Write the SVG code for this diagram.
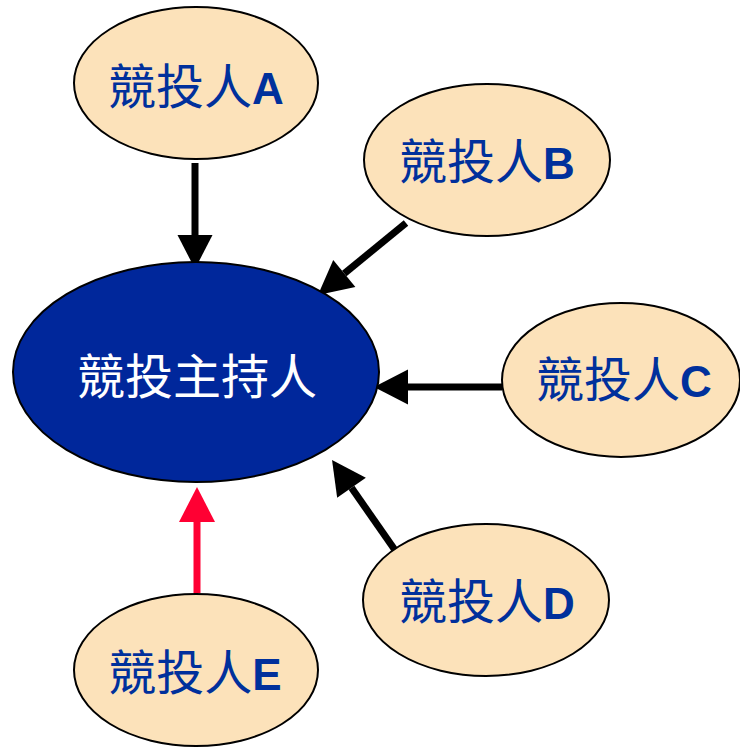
<svg xmlns="http://www.w3.org/2000/svg" width="740" height="747" viewBox="0 0 740 747">
<style>
.bidder{fill:#FCE2BA;stroke:#000;stroke-width:2}
.host{fill:#00279B;stroke:#000;stroke-width:2}
.lbl{font-family:"Liberation Sans","Noto Sans CJK TC",sans-serif;font-size:48px;fill:#00309C;text-anchor:middle}
.lbl tspan{font-weight:bold;font-size:44px}
.hlbl{font-family:"Liberation Sans","Noto Sans CJK TC",sans-serif;font-size:48px;fill:#fff;text-anchor:middle}
.conn{stroke:#000;stroke-width:7;fill:none;marker-end:url(#ah)}
.conn.red{stroke:#FF0033;marker-end:url(#ahr)}
</style>
<defs>
<marker id="ah" markerUnits="userSpaceOnUse" markerWidth="36" markerHeight="36" refX="0" refY="17.5" orient="auto" overflow="visible">
<path d="M0,0 L34,17.5 L0,35 z" fill="#000"/>
</marker>
<marker id="ahr" markerUnits="userSpaceOnUse" markerWidth="36" markerHeight="36" refX="0" refY="18" orient="auto" overflow="visible">
<path d="M0,0 L35,18 L0,36 z" fill="#FF0033"/>
</marker>
</defs>
<g id="connectors">
<line class="conn" x1="195" y1="163" x2="195" y2="235"/>
<line class="conn" x1="406" y1="223" x2="344.3" y2="273.5"/>
<line class="conn" x1="502" y1="387" x2="408" y2="387"/>
<line class="conn" x1="397" y1="553" x2="351.5" y2="487.8"/>
<line class="conn red" x1="197" y1="593" x2="197" y2="522"/>
</g>
<g id="host">
<ellipse class="host" cx="196" cy="372" rx="183" ry="110"/>
<text class="hlbl" x="197" y="394">競投主持人</text>
</g>
<g id="bidderA">
<ellipse class="bidder" cx="196" cy="83" rx="122" ry="76"/>
<text class="lbl" x="196" y="104">競投人<tspan>A</tspan></text>
</g>
<g id="bidderB">
<ellipse class="bidder" cx="487" cy="160" rx="123" ry="76"/>
<text class="lbl" x="487" y="179">競投人<tspan>B</tspan></text>
</g>
<g id="bidderC">
<ellipse class="bidder" cx="621" cy="380" rx="119" ry="77"/>
<text class="lbl" x="624" y="397">競投人<tspan>C</tspan></text>
</g>
<g id="bidderD">
<ellipse class="bidder" cx="486" cy="600" rx="123" ry="76"/>
<text class="lbl" x="487" y="619">競投人<tspan>D</tspan></text>
</g>
<g id="bidderE">
<ellipse class="bidder" cx="196" cy="670" rx="122" ry="76"/>
<text class="lbl" x="195" y="690">競投人<tspan>E</tspan></text>
</g>
</svg>
